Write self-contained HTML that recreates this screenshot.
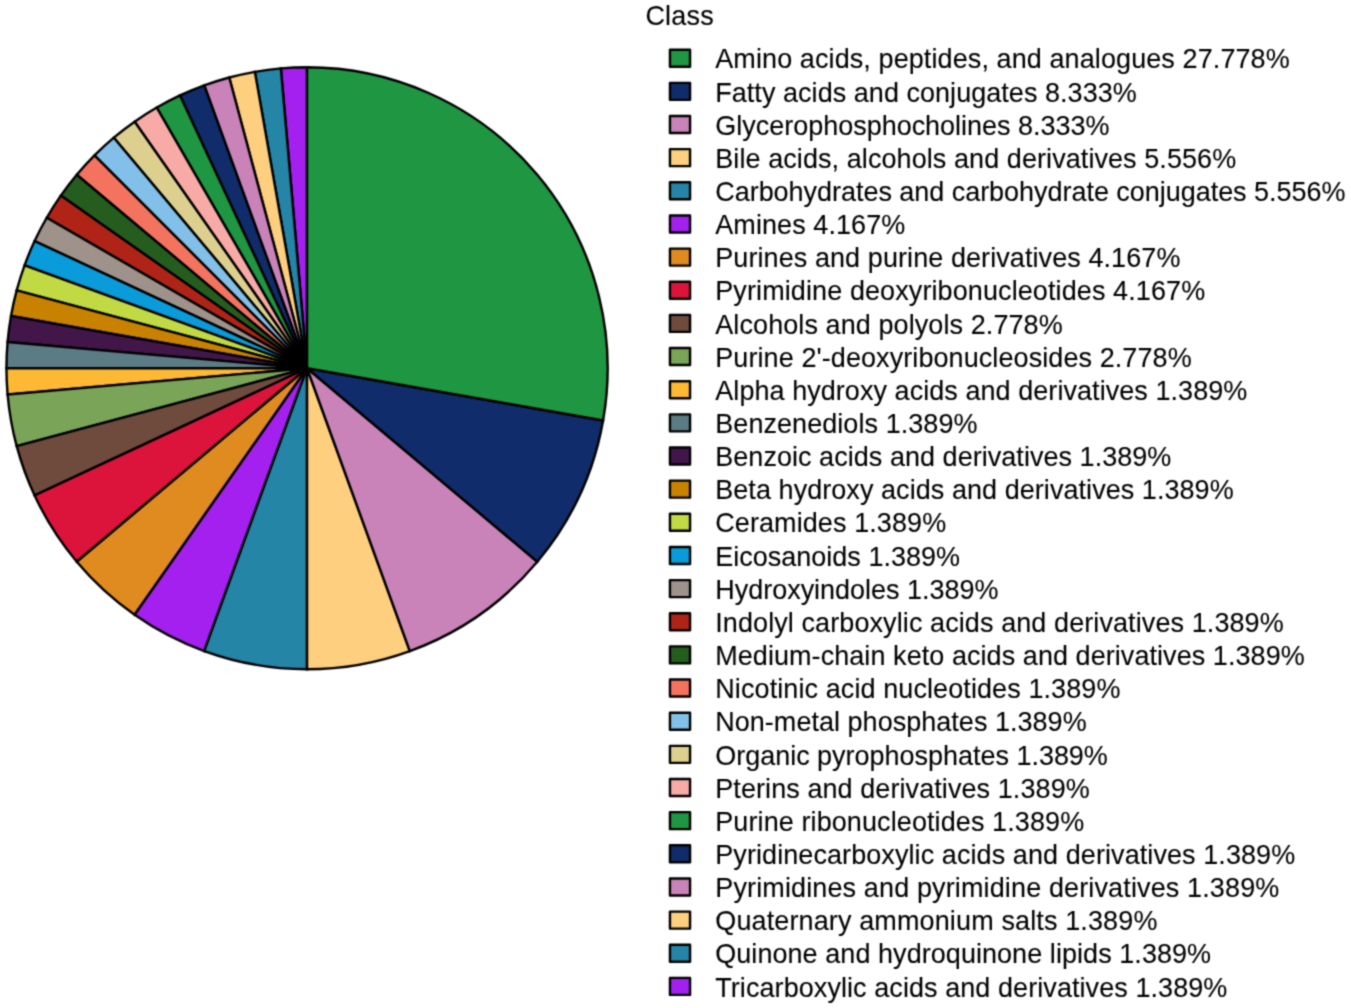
<!DOCTYPE html>
<html lang="en"><head><meta charset="utf-8"><title>Class pie chart</title>
<style>
html,body{margin:0;padding:0;background:#fff;}
body{width:1351px;height:1008px;overflow:hidden;}
svg{display:block;}
text{font-family:"Liberation Sans",Arial,Helvetica,sans-serif;font-size:27px;fill:#000;stroke:#000;stroke-width:0.1px;}
</style></head>
<body>
<svg width="1351" height="1008" viewBox="0 0 1351 1008">
<defs><filter id="soft" x="0" y="0" width="1351" height="1008" filterUnits="userSpaceOnUse" color-interpolation-filters="sRGB"><feConvolveMatrix order="3" kernelMatrix="0.0400 0.1200 0.0400 0.1200 0.3600 0.1200 0.0400 0.1200 0.0400" divisor="1" edgeMode="duplicate" preserveAlpha="true"/></filter></defs>
<g filter="url(#soft)">
<rect width="1351" height="1008" fill="#fff"/>
<g stroke="#000" stroke-width="2.4" stroke-linejoin="miter" stroke-miterlimit="10">
<path d="M307.05 368.25L280.85 68.40A300.60 301.00 0 0 1 307.05 67.25Z" fill="#A320EE"/>
<path d="M307.05 368.25L254.85 71.82A300.60 301.00 0 0 1 280.85 68.40Z" fill="#2485A6"/>
<path d="M307.05 368.25L229.25 77.51A300.60 301.00 0 0 1 254.85 71.82Z" fill="#FDCF7E"/>
<path d="M307.05 368.25L204.24 85.40A300.60 301.00 0 0 1 229.25 77.51Z" fill="#C983B8"/>
<path d="M307.05 368.25L180.01 95.45A300.60 301.00 0 0 1 204.24 85.40Z" fill="#102C6A"/>
<path d="M307.05 368.25L156.75 107.58A300.60 301.00 0 0 1 180.01 95.45Z" fill="#1F9641"/>
<path d="M307.05 368.25L134.63 121.69A300.60 301.00 0 0 1 156.75 107.58Z" fill="#F8ABA6"/>
<path d="M307.05 368.25L113.83 137.67A300.60 301.00 0 0 1 134.63 121.69Z" fill="#DDD08F"/>
<path d="M307.05 368.25L94.49 155.41A300.60 301.00 0 0 1 113.83 137.67Z" fill="#82C0E9"/>
<path d="M307.05 368.25L76.78 174.77A300.60 301.00 0 0 1 94.49 155.41Z" fill="#F4735F"/>
<path d="M307.05 368.25L60.81 195.60A300.60 301.00 0 0 1 76.78 174.77Z" fill="#255D1E"/>
<path d="M307.05 368.25L46.72 217.75A300.60 301.00 0 0 1 60.81 195.60Z" fill="#B02418"/>
<path d="M307.05 368.25L34.61 241.04A300.60 301.00 0 0 1 46.72 217.75Z" fill="#9E928A"/>
<path d="M307.05 368.25L24.58 265.30A300.60 301.00 0 0 1 34.61 241.04Z" fill="#0A9BDB"/>
<path d="M307.05 368.25L16.69 290.35A300.60 301.00 0 0 1 24.58 265.30Z" fill="#C1D942"/>
<path d="M307.05 368.25L11.02 315.98A300.60 301.00 0 0 1 16.69 290.35Z" fill="#C98200"/>
<path d="M307.05 368.25L7.59 342.02A300.60 301.00 0 0 1 11.02 315.98Z" fill="#43164A"/>
<path d="M307.05 368.25L6.45 368.25A300.60 301.00 0 0 1 7.59 342.02Z" fill="#5B7C85"/>
<path d="M307.05 368.25L7.59 394.48A300.60 301.00 0 0 1 6.45 368.25Z" fill="#FDB933"/>
<path d="M307.05 368.25L16.69 446.15A300.60 301.00 0 0 1 7.59 394.48Z" fill="#7AA457"/>
<path d="M307.05 368.25L34.61 495.46A300.60 301.00 0 0 1 16.69 446.15Z" fill="#6E4B3C"/>
<path d="M307.05 368.25L76.78 561.73A300.60 301.00 0 0 1 34.61 495.46Z" fill="#DC143C"/>
<path d="M307.05 368.25L134.63 614.81A300.60 301.00 0 0 1 76.78 561.73Z" fill="#E08B1F"/>
<path d="M307.05 368.25L204.24 651.10A300.60 301.00 0 0 1 134.63 614.81Z" fill="#A320EE"/>
<path d="M307.05 368.25L307.05 669.25A300.60 301.00 0 0 1 204.24 651.10Z" fill="#2485A6"/>
<path d="M307.05 368.25L409.86 651.10A300.60 301.00 0 0 1 307.05 669.25Z" fill="#FDCF7E"/>
<path d="M307.05 368.25L537.32 561.73A300.60 301.00 0 0 1 409.86 651.10Z" fill="#C983B8"/>
<path d="M307.05 368.25L603.08 420.52A300.60 301.00 0 0 1 537.32 561.73Z" fill="#102C6A"/>
<path d="M307.05 368.25L307.05 67.25A300.60 301.00 0 0 1 603.08 420.52Z" fill="#1F9641"/>
</g>
<text x="645.4" y="24.423" transform="scale(1,1.04)" textLength="68.3" lengthAdjust="spacing">Class</text>
<g stroke="#000" stroke-width="2.4" stroke-linejoin="round">
<rect x="669.95" y="49.70" width="20.1" height="17" fill="#1F9641"/>
<rect x="669.95" y="82.85" width="20.1" height="17" fill="#102C6A"/>
<rect x="669.95" y="116.00" width="20.1" height="17" fill="#C983B8"/>
<rect x="669.95" y="149.15" width="20.1" height="17" fill="#FDCF7E"/>
<rect x="669.95" y="182.30" width="20.1" height="17" fill="#2485A6"/>
<rect x="669.95" y="215.45" width="20.1" height="17" fill="#A320EE"/>
<rect x="669.95" y="248.60" width="20.1" height="17" fill="#E08B1F"/>
<rect x="669.95" y="281.75" width="20.1" height="17" fill="#DC143C"/>
<rect x="669.95" y="314.90" width="20.1" height="17" fill="#6E4B3C"/>
<rect x="669.95" y="348.05" width="20.1" height="17" fill="#7AA457"/>
<rect x="669.95" y="381.20" width="20.1" height="17" fill="#FDB933"/>
<rect x="669.95" y="414.35" width="20.1" height="17" fill="#5B7C85"/>
<rect x="669.95" y="447.50" width="20.1" height="17" fill="#43164A"/>
<rect x="669.95" y="480.65" width="20.1" height="17" fill="#C98200"/>
<rect x="669.95" y="513.80" width="20.1" height="17" fill="#C1D942"/>
<rect x="669.95" y="546.95" width="20.1" height="17" fill="#0A9BDB"/>
<rect x="669.95" y="580.10" width="20.1" height="17" fill="#9E928A"/>
<rect x="669.95" y="613.25" width="20.1" height="17" fill="#B02418"/>
<rect x="669.95" y="646.40" width="20.1" height="17" fill="#255D1E"/>
<rect x="669.95" y="679.55" width="20.1" height="17" fill="#F4735F"/>
<rect x="669.95" y="712.70" width="20.1" height="17" fill="#82C0E9"/>
<rect x="669.95" y="745.85" width="20.1" height="17" fill="#DDD08F"/>
<rect x="669.95" y="779.00" width="20.1" height="17" fill="#F8ABA6"/>
<rect x="669.95" y="812.15" width="20.1" height="17" fill="#1F9641"/>
<rect x="669.95" y="845.30" width="20.1" height="17" fill="#102C6A"/>
<rect x="669.95" y="878.45" width="20.1" height="17" fill="#C983B8"/>
<rect x="669.95" y="911.60" width="20.1" height="17" fill="#FDCF7E"/>
<rect x="669.95" y="944.75" width="20.1" height="17" fill="#2485A6"/>
<rect x="669.95" y="977.90" width="20.1" height="17" fill="#A320EE"/>
</g>
<g transform="scale(1,1.04)">
<text x="715.25" y="65.769" textLength="574.46" lengthAdjust="spacing">Amino acids, peptides, and analogues 27.778%</text>
<text x="715.25" y="97.644" textLength="421.53" lengthAdjust="spacing">Fatty acids and conjugates 8.333%</text>
<text x="715.25" y="129.519" textLength="394.32" lengthAdjust="spacing">Glycerophosphocholines 8.333%</text>
<text x="715.25" y="161.394" textLength="520.96" lengthAdjust="spacing">Bile acids, alcohols and derivatives 5.556%</text>
<text x="715.25" y="193.269" textLength="630.17" lengthAdjust="spacing">Carbohydrates and carbohydrate conjugates 5.556%</text>
<text x="715.25" y="225.144" textLength="190.06" lengthAdjust="spacing">Amines 4.167%</text>
<text x="715.25" y="257.019" textLength="465.15" lengthAdjust="spacing">Purines and purine derivatives 4.167%</text>
<text x="715.25" y="288.894" textLength="489.93" lengthAdjust="spacing">Pyrimidine deoxyribonucleotides 4.167%</text>
<text x="715.25" y="320.769" textLength="347.48" lengthAdjust="spacing">Alcohols and polyols 2.778%</text>
<text x="715.25" y="352.644" textLength="476.40" lengthAdjust="spacing">Purine 2'-deoxyribonucleosides 2.778%</text>
<text x="715.25" y="384.519" textLength="532.06" lengthAdjust="spacing">Alpha hydroxy acids and derivatives 1.389%</text>
<text x="715.25" y="416.394" textLength="262.25" lengthAdjust="spacing">Benzenediols 1.389%</text>
<text x="715.25" y="448.269" textLength="456.13" lengthAdjust="spacing">Benzoic acids and derivatives 1.389%</text>
<text x="715.25" y="480.144" textLength="518.45" lengthAdjust="spacing">Beta hydroxy acids and derivatives 1.389%</text>
<text x="715.25" y="512.019" textLength="230.88" lengthAdjust="spacing">Ceramides 1.389%</text>
<text x="715.25" y="543.894" textLength="244.72" lengthAdjust="spacing">Eicosanoids 1.389%</text>
<text x="715.25" y="575.769" textLength="283.22" lengthAdjust="spacing">Hydroxyindoles 1.389%</text>
<text x="715.25" y="607.644" textLength="568.46" lengthAdjust="spacing">Indolyl carboxylic acids and derivatives 1.389%</text>
<text x="715.25" y="639.519" textLength="589.48" lengthAdjust="spacing">Medium-chain keto acids and derivatives 1.389%</text>
<text x="715.25" y="671.394" textLength="405.18" lengthAdjust="spacing">Nicotinic acid nucleotides 1.389%</text>
<text x="715.25" y="703.269" textLength="371.40" lengthAdjust="spacing">Non-metal phosphates 1.389%</text>
<text x="715.25" y="735.144" textLength="392.62" lengthAdjust="spacing">Organic pyrophosphates 1.389%</text>
<text x="715.25" y="767.019" textLength="374.47" lengthAdjust="spacing">Pterins and derivatives 1.389%</text>
<text x="715.25" y="798.894" textLength="368.90" lengthAdjust="spacing">Purine ribonucleotides 1.389%</text>
<text x="715.25" y="830.769" textLength="579.95" lengthAdjust="spacing">Pyridinecarboxylic acids and derivatives 1.389%</text>
<text x="715.25" y="862.644" textLength="564.02" lengthAdjust="spacing">Pyrimidines and pyrimidine derivatives 1.389%</text>
<text x="715.25" y="894.519" textLength="442.15" lengthAdjust="spacing">Quaternary ammonium salts 1.389%</text>
<text x="715.25" y="926.394" textLength="495.83" lengthAdjust="spacing">Quinone and hydroquinone lipids 1.389%</text>
<text x="715.25" y="958.269" textLength="512.08" lengthAdjust="spacing">Tricarboxylic acids and derivatives 1.389%</text>
</g>
</g>
</svg>
</body></html>
